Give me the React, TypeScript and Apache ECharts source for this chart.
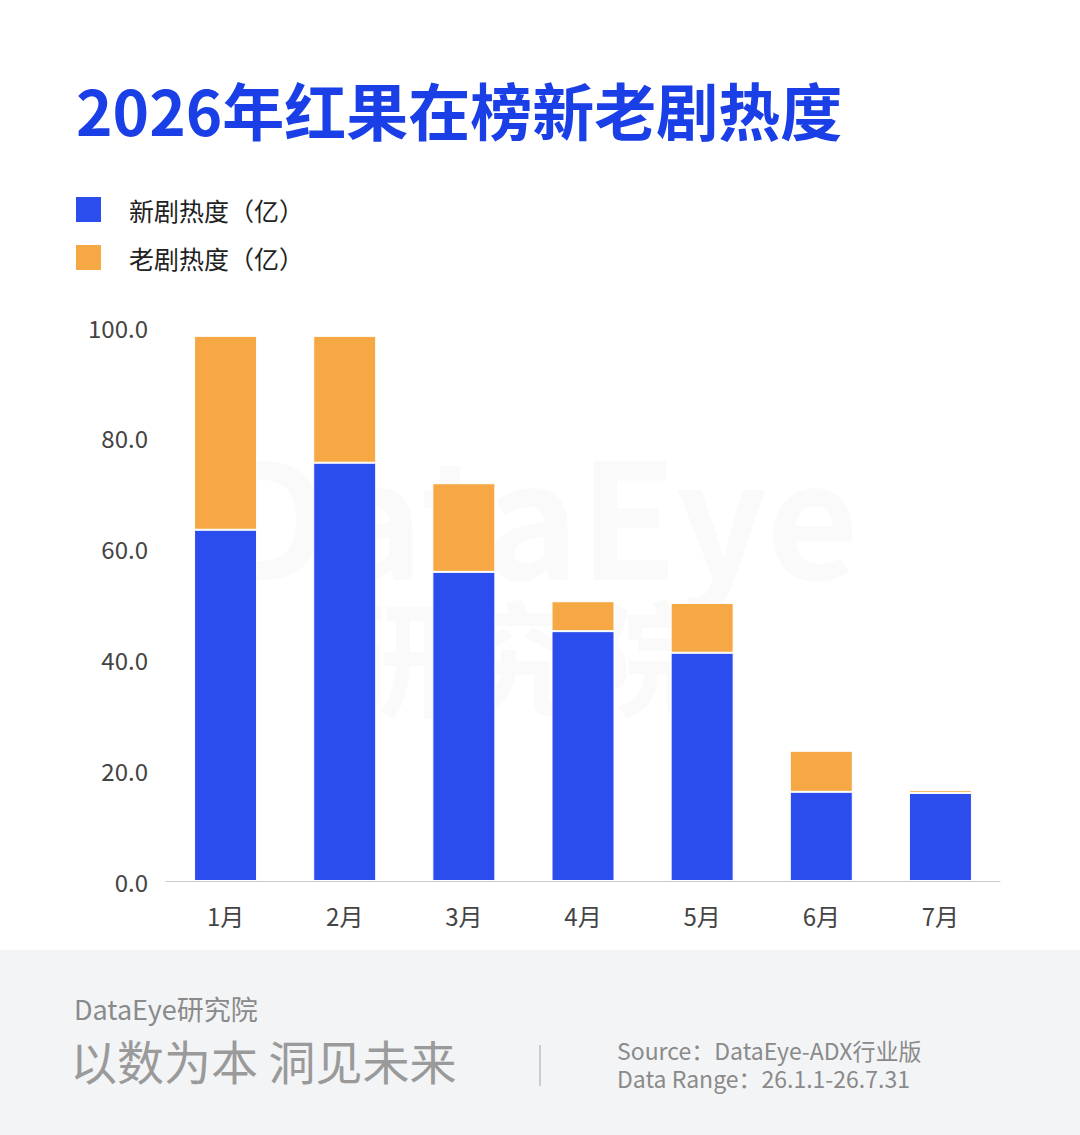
import { useEffect, useRef } from 'react'
import * as echarts from 'echarts'

const months = ['1月', '2月', '3月', '4月', '5月', '6月', '7月']
const newHeat = [63.4, 75.5, 55.8, 45.1, 41.2, 16.1, 15.9]
const oldHeat = [35.0, 22.9, 16.0, 5.4, 9.0, 7.4, 0.5]
const legendNames = ['新剧热度（亿）', '老剧热度（亿）']

const FONT = '"Noto Sans CJK SC", "Noto Sans", sans-serif'

export default function App() {
  const chartRef = useRef<HTMLDivElement | null>(null)

  useEffect(() => {
    document.body.style.margin = '0'
    if (!chartRef.current) {
      return
    }
    const chart = echarts.init(chartRef.current, null, { renderer: 'svg' })
    chart.setOption({
      animation: false,
      backgroundColor: '#ffffff',
      textStyle: { fontFamily: FONT },
      color: ['#2b4ded', '#f5a843'],
      legend: {
        left: 74,
        top: 195,
        padding: 0,
        orient: 'vertical',
        itemWidth: 27,
        itemHeight: 27,
        itemGap: 19,
        icon: 'rect',
        textStyle: { fontSize: 25, color: '#222', padding: [0, 0, 0, 22] },
        data: legendNames,
      },
      grid: { left: 166, right: 80, top: 327, bottom: 254 },
      xAxis: {
        type: 'category',
        data: months,
        axisTick: { show: false },
        axisLine: { lineStyle: { color: '#cccccc' } },
        axisLabel: { fontSize: 24, color: '#444', margin: 22 },
      },
      yAxis: {
        type: 'value',
        min: 0,
        max: 100,
        interval: 20,
        splitLine: { show: false },
        axisLabel: {
          fontSize: 24,
          color: '#444',
          margin: 18,
          formatter: (v: number) => v.toFixed(1),
        },
      },
      series: [
        {
          name: legendNames[0],
          type: 'bar',
          stack: 'total',
          barWidth: 63,
          data: newHeat,
          itemStyle: { borderColor: '#fff', borderWidth: 1 },
        },
        {
          name: legendNames[1],
          type: 'bar',
          stack: 'total',
          barWidth: 63,
          data: oldHeat,
          itemStyle: { borderColor: '#fff', borderWidth: 1 },
        },
      ],
      graphic: [
        {
          type: 'text',
          left: 76,
          top: 78,
          style: { text: '2026年红果在榜新老剧热度', fill: '#1a3fe6', font: `bold 62px ${FONT}` },
        },
        {
          type: 'text',
          left: 215,
          top: 430,
          z: -1,
          silent: true,
          style: { text: 'DataEye', fill: 'rgba(0,0,0,0.018)', font: `bold 160px ${FONT}` },
        },
        {
          type: 'text',
          left: 330,
          top: 590,
          z: -1,
          silent: true,
          style: { text: '研究院', fill: 'rgba(0,0,0,0.018)', font: `bold 125px ${FONT}` },
        },
        {
          type: 'rect',
          shape: { x: 0, y: 950, width: 1080, height: 185 },
          style: { fill: '#f3f4f6' },
        },
        {
          type: 'text',
          left: 74,
          top: 995,
          style: { text: 'DataEye研究院', fill: '#8a8a8a', font: `27px ${FONT}` },
        },
        {
          type: 'text',
          left: 70,
          top: 1036,
          style: { text: '以数为本 洞见未来', fill: '#9a9a9a', font: `47px ${FONT}` },
        },
        {
          type: 'line',
          shape: { x1: 540, y1: 1045, x2: 540, y2: 1086 },
          style: { stroke: '#cccccc', lineWidth: 2 },
        },
        {
          type: 'text',
          left: 617,
          top: 1038,
          style: { text: 'Source：DataEye-ADX行业版', fill: '#8a8a8a', font: `23px ${FONT}` },
        },
        {
          type: 'text',
          left: 617,
          top: 1066,
          style: { text: 'Data Range：26.1.1-26.7.31', fill: '#8a8a8a', font: `23px ${FONT}` },
        },
      ],
    })
    return () => {
      chart.dispose()
    }
  }, [])

  return <div ref={chartRef} style={{ width: 1080, height: 1135 }} />
}
